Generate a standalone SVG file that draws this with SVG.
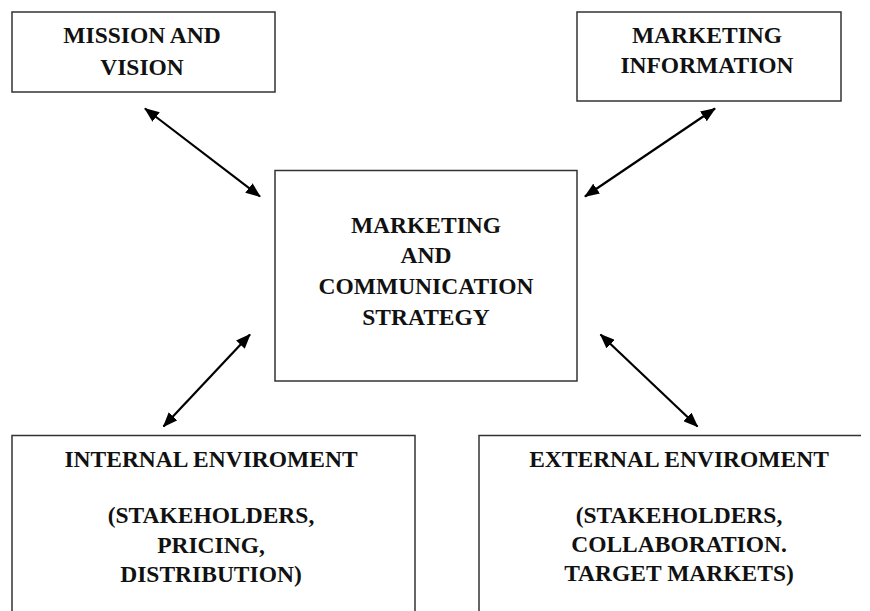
<svg xmlns="http://www.w3.org/2000/svg" width="870" height="611" viewBox="0 0 870 611">
  <style>
    .box { fill: #ffffff; stroke: #333333; stroke-width: 1.5; }
    .lbl { font-family: "Liberation Serif", "Times New Roman", serif; font-weight: bold; font-size: 23.5px; fill: #111111; text-anchor: middle; }
    .conn { stroke: #000000; stroke-width: 2.2; fill: none; marker-start: url(#ah); marker-end: url(#ah); }
  </style>
  <defs>
    <marker id="ah" viewBox="0 0 15 12" refX="14" refY="6" markerUnits="userSpaceOnUse" markerWidth="15" markerHeight="12" orient="auto-start-reverse">
      <path d="M0,0 L15,6 L0,12 z" fill="#000000"/>
    </marker>
  </defs>
  <rect width="870" height="611" fill="#ffffff"/>

  <g id="mission">
    <rect class="box" x="12" y="12" width="263" height="80"/>
    <text class="lbl" x="142" y="43">MISSION AND</text>
    <text class="lbl" x="142" y="75">VISION</text>
  </g>

  <g id="marketing-information">
    <rect class="box" x="577" y="12" width="264" height="89"/>
    <text class="lbl" x="707" y="43">MARKETING</text>
    <text class="lbl" x="707" y="73">INFORMATION</text>
  </g>

  <g id="strategy">
    <rect class="box" x="275" y="170.5" width="302" height="210.5"/>
    <text class="lbl" x="426" y="233">MARKETING</text>
    <text class="lbl" x="426" y="262.5">AND</text>
    <text class="lbl" x="426" y="294">COMMUNICATION</text>
    <text class="lbl" x="426" y="325">STRATEGY</text>
  </g>

  <g id="internal">
    <rect class="box" x="12" y="435.5" width="403" height="190"/>
    <text class="lbl" x="211" y="467">INTERNAL ENVIROMENT</text>
    <text class="lbl" x="211" y="523">(STAKEHOLDERS,</text>
    <text class="lbl" x="211" y="552.5">PRICING,</text>
    <text class="lbl" x="211" y="581.5">DISTRIBUTION)</text>
  </g>

  <g id="external">
    <path class="box" d="M861,435.5 H479 V625" fill="none"/>
    <text class="lbl" x="679" y="467">EXTERNAL ENVIROMENT</text>
    <text class="lbl" x="679" y="523">(STAKEHOLDERS,</text>
    <text class="lbl" x="679" y="552">COLLABORATION.</text>
    <text class="lbl" x="679" y="581">TARGET MARKETS)</text>
  </g>

  <g id="connectors">
    <line class="conn" x1="145" y1="108.5" x2="260" y2="196.5"/>
    <line class="conn" x1="715" y1="108.5" x2="585" y2="196.5"/>
    <line class="conn" x1="250" y1="334.5" x2="163.5" y2="426.5"/>
    <line class="conn" x1="600.5" y1="334.5" x2="697.5" y2="426.5"/>
  </g>
</svg>
